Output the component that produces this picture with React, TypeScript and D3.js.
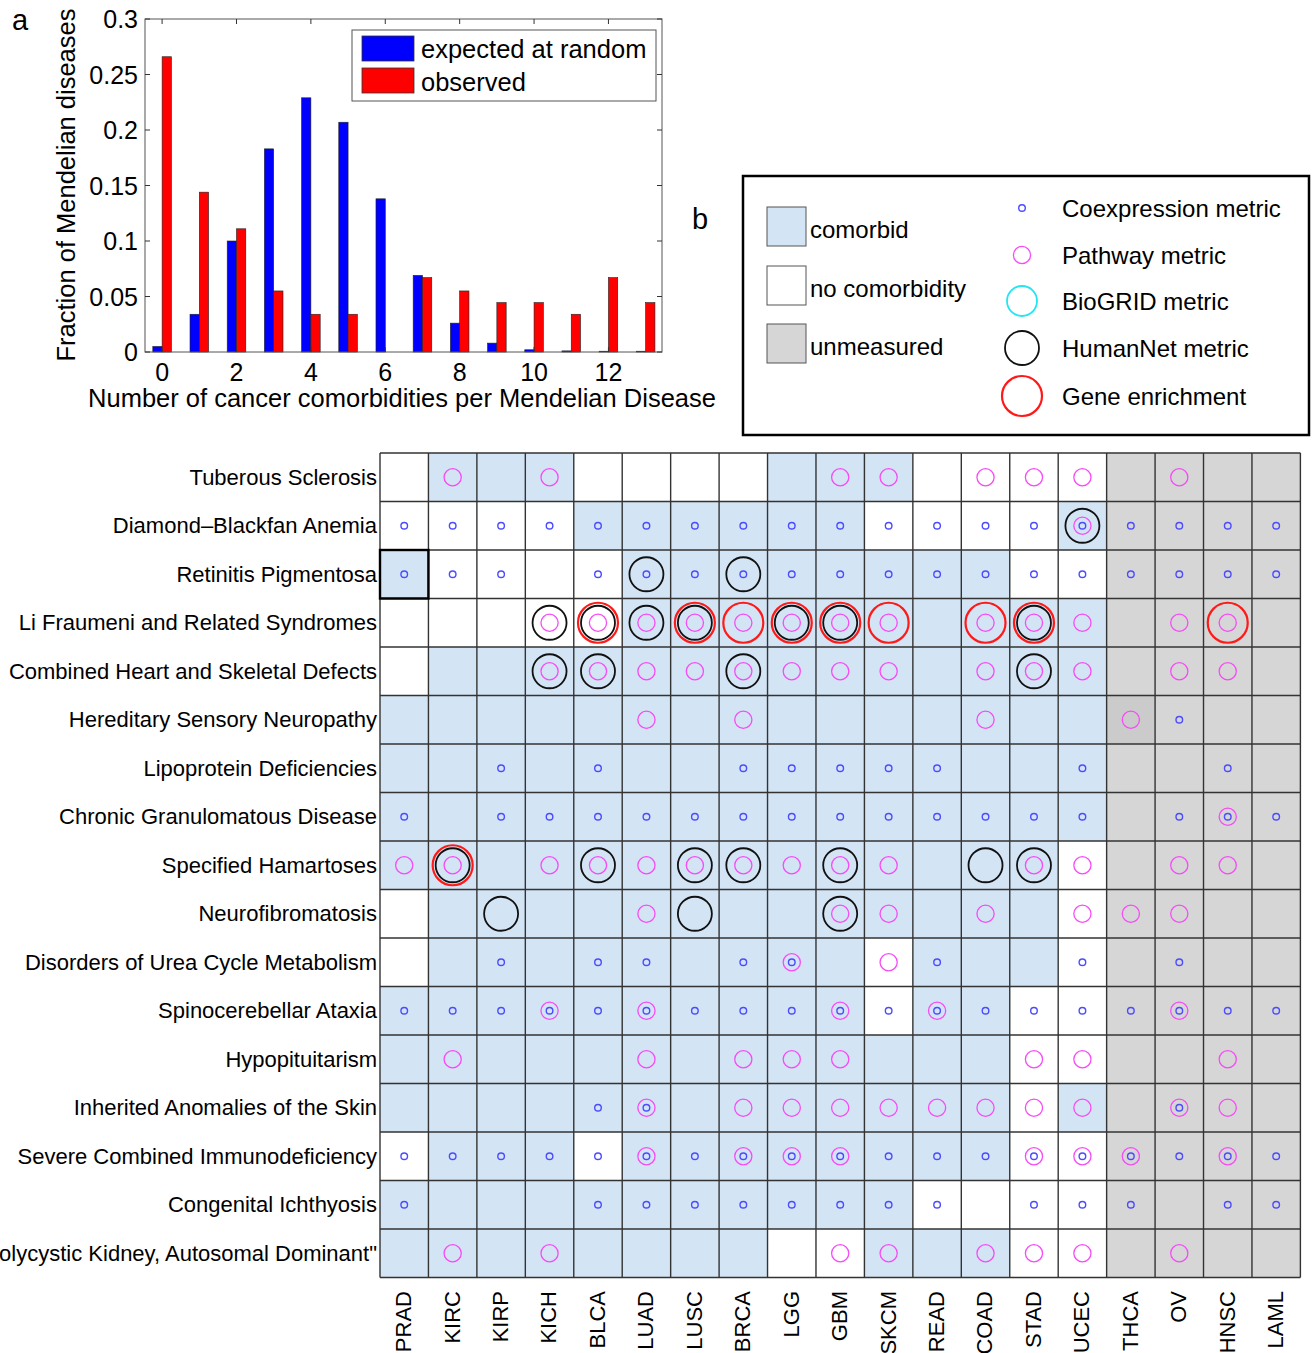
import React from "react";
import * as d3 from "d3";

const W = 1315;
const H = 1353;
const FONT = "'Liberation Sans', Arial, sans-serif";

// panel a: histogram
const comorbidityCounts = [0, 1, 2, 3, 4, 5, 6, 7, 8, 9, 10, 11, 12, 13];
const expectedAtRandom = [0.005, 0.034, 0.1, 0.183, 0.229, 0.207, 0.138, 0.069, 0.026, 0.008, 0.002, 0.001, 0.0007, 0.0007];
const observed = [0.266, 0.144, 0.111, 0.055, 0.034, 0.034, 0, 0.067, 0.055, 0.0445, 0.0445, 0.034, 0.067, 0.0445];
const yTicks = [0, 0.05, 0.1, 0.15, 0.2, 0.25, 0.3];
const xTicks = [0, 2, 4, 6, 8, 10, 12];

// panel b: comorbidity grid
const cancers = ["PRAD", "KIRC", "KIRP", "KICH", "BLCA", "LUAD", "LUSC", "BRCA", "LGG", "GBM", "SKCM", "READ", "COAD", "STAD", "UCEC", "THCA", "OV", "HNSC", "LAML"];
const diseases = [
  "Tuberous Sclerosis",
  "Diamond\u2013Blackfan Anemia",
  "Retinitis Pigmentosa",
  "Li Fraumeni and Related Syndromes",
  "Combined Heart and Skeletal Defects",
  "Hereditary Sensory Neuropathy",
  "Lipoprotein Deficiencies",
  "Chronic Granulomatous Disease",
  "Specified Hamartoses",
  "Neurofibromatosis",
  "Disorders of Urea Cycle Metabolism",
  "Spinocerebellar Ataxia",
  "Hypopituitarism",
  "Inherited Anomalies of the Skin",
  "Severe Combined Immunodeficiency",
  "Congenital Ichthyosis",
  "\"Polycystic Kidney, Autosomal Dominant\"",
];
// W = no comorbidity, B = comorbid, G = unmeasured, D = unmeasured (darker)
const cellStatus = [
  "WBBBWWWWBBBWWWWGGGG",
  "WWWWBBBBBBWWWWBGGGG",
  "BWWWWBBBBBBBBWWGGGG",
  "WWWWWBBBBBBBBBBGGGG",
  "WBBBBBBBBBBBBBBGGGG",
  "BBBBBBBBBBBBBBBDGGG",
  "BBBBBBBBBBBBBBBGGGG",
  "BBBBBBBBBBBBBBBGGGG",
  "BBBBBBBBBBBBBBWGGGG",
  "WBBBBBBBBBBBBBWGGGG",
  "WBBBBBBBBBWBBBWGGGG",
  "BBBBBBBBBBWBBWWGGGG",
  "BBBBBBBBBBBBBWWGGGG",
  "BBBBBBBBBBBBBWBGGGG",
  "WBBBWBBBBBBBBWWGGGG",
  "BBBBBBBBBBBWWWWGGGG",
  "BBBBBBBBWWBBBWWGGGG",
];
// c = coexpression, p = pathway, h = HumanNet, r = gene enrichment, . = none
const cellMetrics = [
  ". p . p . . . . . p p . p p p . p . .",
  "c c c c c c c c c c c c c c cph c c c c",
  "c c c . c ch c ch c c c c c c c c c c c",
  ". . . ph phr ph phr pr phr phr pr . pr phr p . p pr .",
  ". . . ph ph p p ph p p p . p ph p . p p .",
  ". . . . . p . p . . . . p . . p c . .",
  ". . c . c . . c c c c c . . c . . c .",
  "c . c c c c c c c c c c c c c . c cp c",
  "p phr . p ph p ph ph p ph p . h ph p . p p .",
  ". . h . . p h . . ph p . p . p p p . .",
  ". . c . c c . c cp . p c . . c . c . .",
  "c c c cp c cp c c c cp c cp c c c c cp c c",
  ". p . . . p . p p p . . . p p . . p .",
  ". . . . c cp . p p p p p p p p . cp p .",
  "c c c c c cp c cp cp cp c c c cp cp cp c cp c",
  "c . . . c c c c c c c c . c c c . c c",
  ". p . p . . . . . p p . p p p . p . .",
];
const highlighted = [{ row: 2, col: 0 }];

const statusLegend = ["comorbid", "no comorbidity", "unmeasured"];
const metricLegend = ["Coexpression metric", "Pathway metric", "BioGRID metric", "HumanNet metric", "Gene enrichment"];

const fills: Record<string, string> = { W: "#ffffff", B: "#d3e4f5", G: "#d6d6d6", D: "#cbcbcb" };
const metricStyle: Record<string, { r: number; color: string; sw: number }> = {
  r: { r: 20, color: "#ff1a1a", sw: 2.2 },
  h: { r: 17, color: "#111111", sw: 1.8 },
  b: { r: 15, color: "#22e6f0", sw: 1.8 },
  p: { r: 8.6, color: "#f64cf6", sw: 1.3 },
  c: { r: 3.3, color: "#4b4bff", sw: 1.4 },
};
const drawOrder = ["r", "h", "b", "p", "c"];

function BarPanel() {
  const x = d3.scaleLinear().domain([-0.46, 13.44]).range([145, 662]);
  const y = d3.scaleLinear().domain([0, 0.3]).range([352, 19]);
  const bw = 0.25;
  return (
    <g fontFamily={FONT}>
      {comorbidityCounts.map((k, i) => (
        <g key={k}>
          <rect x={x(k - bw)} y={y(expectedAtRandom[i])} width={x(k) - x(k - bw)} height={y(0) - y(expectedAtRandom[i])} fill="#0000ff" stroke="#222" strokeWidth={0.6} />
          {observed[i] > 0 && (
            <rect x={x(k)} y={y(observed[i])} width={x(k + bw) - x(k)} height={y(0) - y(observed[i])} fill="#ff0000" stroke="#222" strokeWidth={0.6} />
          )}
        </g>
      ))}
      <rect x={145} y={19} width={517} height={333} fill="none" stroke="#555" strokeWidth={1} />
      {yTicks.map((t) => (
        <g key={t}>
          <line x1={145} x2={150} y1={y(t)} y2={y(t)} stroke="#333" />
          <line x1={662} x2={657} y1={y(t)} y2={y(t)} stroke="#333" />
          <text x={138} y={y(t)} dy="0.36em" textAnchor="end" fontSize={25}>{t}</text>
        </g>
      ))}
      {xTicks.map((t) => (
        <g key={t}>
          <line x1={x(t)} x2={x(t)} y1={352} y2={347} stroke="#333" />
          <line x1={x(t)} x2={x(t)} y1={19} y2={24} stroke="#333" />
          <text x={x(t)} y={381} textAnchor="middle" fontSize={25}>{t}</text>
        </g>
      ))}
      <text x={402} y={407} textAnchor="middle" fontSize={25.5}>Number of cancer comorbidities per Mendelian Disease</text>
      <text transform="translate(75,185) rotate(-90)" textAnchor="middle" fontSize={25.5}>Fraction of Mendelian diseases</text>
      <text x={12} y={30} fontSize={29}>a</text>
      <rect x={352} y={30} width={304} height={71} fill="#fff" stroke="#555" strokeWidth={1} />
      <rect x={362} y={36} width={52} height={25} fill="#0000ff" stroke="#333" strokeWidth={0.8} />
      <rect x={362} y={68} width={52} height={25} fill="#ff0000" stroke="#333" strokeWidth={0.8} />
      <text x={421} y={49} dy="0.36em" fontSize={25.5}>expected at random</text>
      <text x={421} y={82} dy="0.36em" fontSize={25.5}>observed</text>
    </g>
  );
}

function LegendPanel() {
  const swatchY = [207, 266, 324];
  const markY = [208, 255, 301, 348, 396];
  const keys = ["c", "p", "b", "h", "r"];
  return (
    <g fontFamily={FONT}>
      <text x={692} y={229} fontSize={29}>b</text>
      <rect x={743} y={176} width={566} height={259} fill="#fff" stroke="#000" strokeWidth={2.5} />
      {statusLegend.map((s, i) => (
        <g key={s}>
          <rect x={767} y={swatchY[i]} width={39} height={39} fill={fills["BWG"[i]]} stroke="#555" strokeWidth={1} />
          <text x={810} y={swatchY[i] + 22} dy="0.36em" fontSize={24}>{s}</text>
        </g>
      ))}
      {metricLegend.map((m, i) => {
        const st = metricStyle[keys[i]];
        return (
          <g key={m}>
            <circle cx={1022} cy={markY[i]} r={st.r} fill="none" stroke={st.color} strokeWidth={st.sw} />
            <text x={1062} y={markY[i]} dy="0.36em" fontSize={24}>{m}</text>
          </g>
        );
      })}
    </g>
  );
}

function GridPanel() {
  const x = d3.scaleBand<string>().domain(cancers).range([380, 1300.4]);
  const y = d3.scaleBand<string>().domain(diseases).range([453, 1277.5]);
  const cw = x.bandwidth();
  const ch = y.bandwidth();
  return (
    <g fontFamily={FONT}>
      {diseases.map((d, ri) =>
        cancers.map((c, ci) => (
          <rect key={d + c} x={x(c)} y={y(d)} width={cw} height={ch} fill={fills[cellStatus[ri][ci]]} />
        ))
      )}
      {d3.range(cancers.length + 1).map((i) => (
        <line key={"v" + i} x1={380 + i * cw} x2={380 + i * cw} y1={453} y2={1277.5} stroke="#333" strokeWidth={1.4} />
      ))}
      {d3.range(diseases.length + 1).map((i) => (
        <line key={"h" + i} x1={380} x2={1300.4} y1={453 + i * ch} y2={453 + i * ch} stroke="#333" strokeWidth={1.4} />
      ))}
      {highlighted.map((h) => (
        <rect key={"hl" + h.row} x={x(cancers[h.col])} y={y(diseases[h.row])} width={cw} height={ch} fill="none" stroke="#000" strokeWidth={2.4} />
      ))}
      {diseases.map((d, ri) => {
        const codes = cellMetrics[ri].split(" ");
        return cancers.map((c, ci) => {
          const code = codes[ci];
          if (code === ".") return null;
          const cx = (x(c) as number) + cw / 2;
          const cy = (y(d) as number) + ch / 2;
          return drawOrder
            .filter((k) => code.includes(k))
            .map((k) => (
              <circle key={d + c + k} cx={cx} cy={cy} r={metricStyle[k].r} fill="none" stroke={metricStyle[k].color} strokeWidth={metricStyle[k].sw} />
            ));
        });
      })}
      {diseases.map((d) => (
        <text key={d} x={377} y={(y(d) as number) + ch / 2} dy="0.34em" textAnchor="end" fontSize={22}>{d}</text>
      ))}
      {cancers.map((c) => (
        <text key={c} transform={`translate(${(x(c) as number) + cw / 2 - 1},1291) rotate(-90)`} dy="0.36em" textAnchor="end" fontSize={22}>{c}</text>
      ))}
    </g>
  );
}

export default function App() {
  return (
    <div style={{ position: "absolute", left: 0, top: 0 }}>
      <svg width={W} height={H} style={{ display: "block", background: "#fff" }}>
        <BarPanel />
        <LegendPanel />
        <GridPanel />
      </svg>
    </div>
  );
}
